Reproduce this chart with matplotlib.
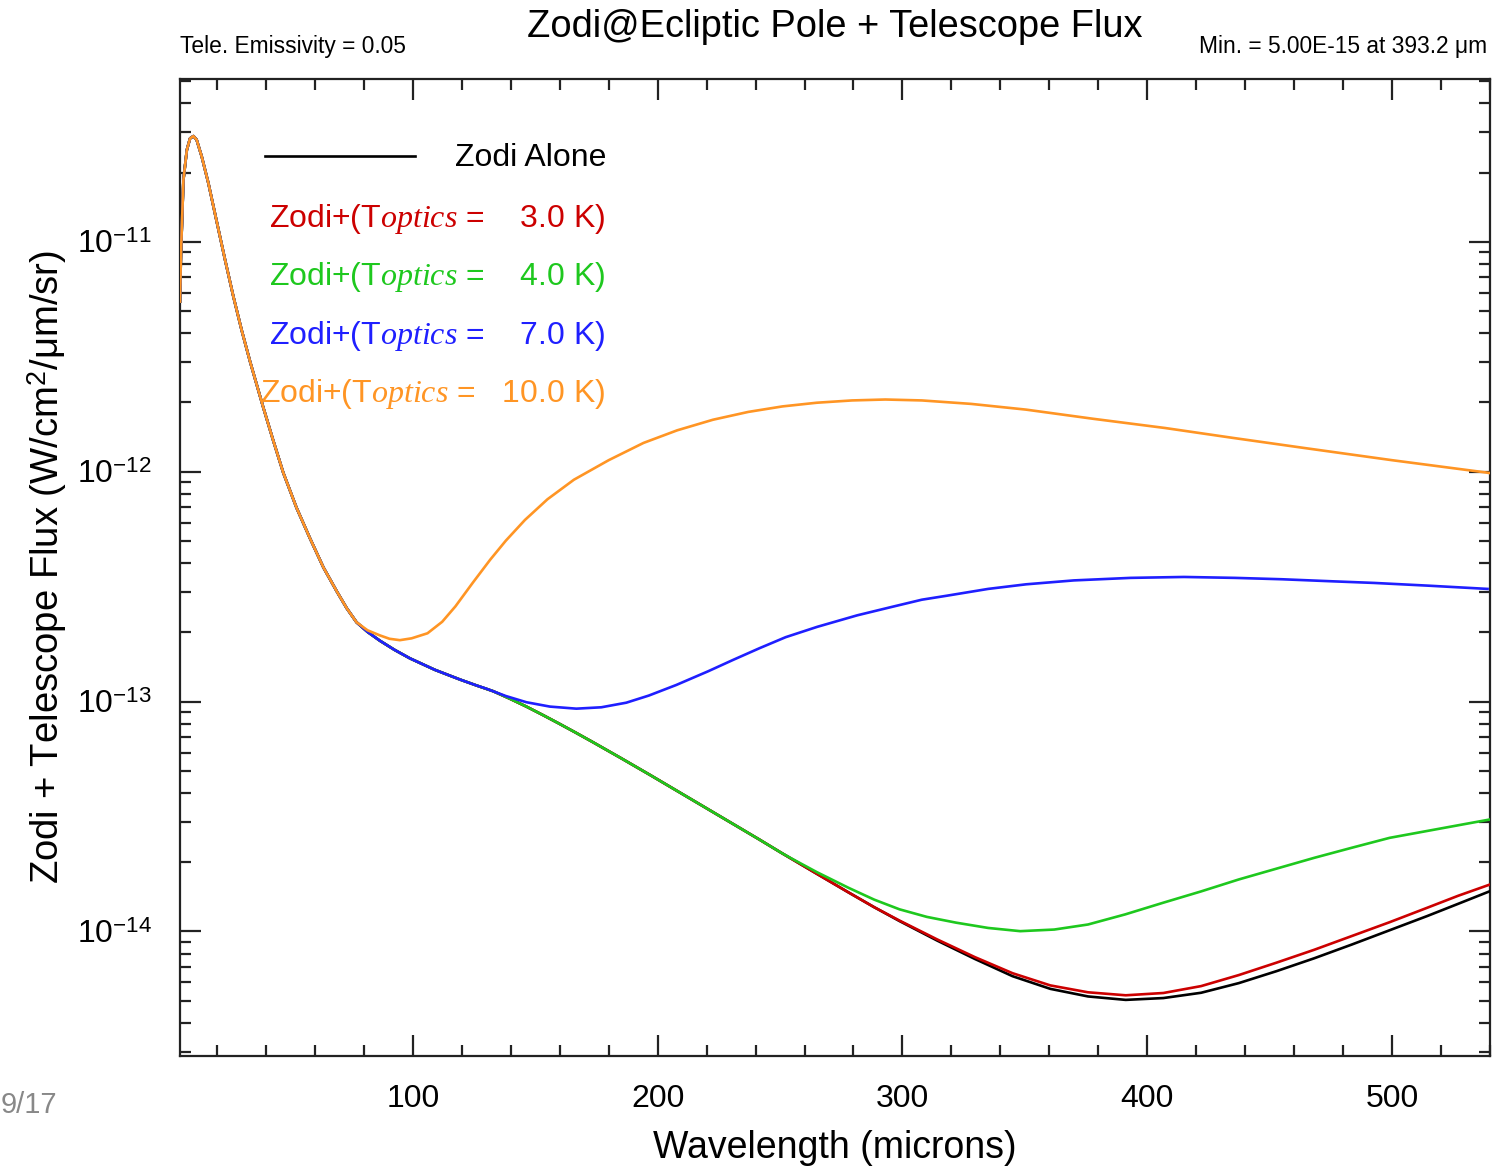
import numpy as np
import matplotlib
matplotlib.use("Agg")
import matplotlib.pyplot as plt
from matplotlib.lines import Line2D
from matplotlib.ticker import LogLocator, MultipleLocator, FixedLocator, NullFormatter

plt.rcParams['font.family'] = ['Liberation Sans', 'DejaVu Sans']
plt.rcParams['mathtext.fontset'] = 'custom'
plt.rcParams['mathtext.rm'] = 'Liberation Sans'
plt.rcParams['mathtext.it'] = 'Liberation Serif:italic'
plt.rcParams['mathtext.bf'] = 'Liberation Sans:bold'

# ---------------- data (wavelength in microns, log10 flux) ----------------
zodi_wl = [4.9, 5.3, 6.3, 7.7, 9.0, 10.4, 11.7, 13.8, 16.5, 19.9, 23.3, 26.7,
           30.1, 33.5, 38.9, 43.0, 47.1, 52.5, 58.0, 63.5, 68.9, 73.0, 77.0,
           81.5, 86.5, 92.5, 98.8, 109.0, 119.2, 126.0, 132.8, 139.5, 146.4,
           153.0, 159.4, 166.5, 173.6, 185.0, 197.0, 214.5, 232.3, 241.5,
           250.5, 264.0, 277.9, 288.5, 298.8, 314.2, 329.6, 345.0, 360.4,
           375.8, 391.2, 406.6, 422.0, 437.4, 452.8, 468.2, 483.6, 499.0,
           514.4, 527.0, 540.0]
zodi_logf = [-11.26, -11.05, -10.73, -10.60, -10.55, -10.54, -10.556, -10.63,
             -10.745, -10.912, -11.078, -11.238, -11.385, -11.52, -11.72,
             -11.865, -12.005, -12.157, -12.29, -12.417, -12.52, -12.594,
             -12.655, -12.697, -12.735, -12.775, -12.812, -12.862, -12.904,
             -12.93, -12.955, -12.987, -13.022, -13.058, -13.094, -13.135,
             -13.177, -13.246, -13.32, -13.43, -13.542, -13.60, -13.658,
             -13.743, -13.83, -13.895, -13.955, -14.04, -14.12, -14.195,
             -14.25, -14.283, -14.298, -14.29, -14.267, -14.225, -14.173,
             -14.117, -14.057, -13.995, -13.933, -13.88, -13.825]

red_wl = [298.8, 314.2, 329.6, 345.0, 360.4, 375.8, 391.2, 406.6, 422.0,
          437.4, 452.8, 468.2, 483.6, 499.0, 514.4, 527.0, 540.0]
red_logf = [-13.953, -14.035, -14.112, -14.182, -14.235, -14.265, -14.278,
            -14.268, -14.238, -14.19, -14.136, -14.08, -14.02, -13.96,
            -13.897, -13.845, -13.796]

green_wl = [254.2, 265.0, 277.9, 288.5, 298.8, 310.0, 321.9, 335.0, 348.1,
            362.0, 375.8, 391.0, 406.6, 422.0, 437.4, 452.8, 468.2, 483.6,
            499.0, 520.0, 540.0]
green_logf = [-13.68, -13.742, -13.81, -13.862, -13.904, -13.937, -13.962,
              -13.985, -13.999, -13.992, -13.970, -13.926, -13.875, -13.826,
              -13.774, -13.727, -13.68, -13.636, -13.593, -13.552, -13.513]

blue_wl = [130.0, 138.0, 146.4, 156.0, 166.8, 177.0, 187.2, 196.4, 207.6,
           220.7, 231.0, 241.6, 252.3, 265.2, 281.5, 295.0, 307.9, 317.9,
           335.0, 350.5, 370.0, 393.2, 415.0, 435.8, 455.0, 475.8, 492.7,
           515.0, 539.0]
blue_logf = [-12.944, -12.976, -13.003, -13.022, -13.031, -13.025, -13.005,
             -12.974, -12.928, -12.868, -12.818, -12.768, -12.72, -12.675,
             -12.625, -12.59, -12.557, -12.54, -12.51, -12.49, -12.473,
             -12.462, -12.458, -12.462, -12.468, -12.477, -12.484, -12.496,
             -12.51]

orange_wl = [77.0, 81.5, 86.5, 90.5, 94.7, 99.5, 106.0, 112.0, 117.4, 124.5,
             131.6, 138.0, 145.8, 155.0, 165.8, 180.0, 194.2, 208.0, 222.6,
             237.0, 251.0, 265.0, 279.4, 293.0, 307.9, 328.0, 350.5, 378.0,
             407.3, 435.0, 464.2, 500.0, 538.0, 540.0]
orange_logf = [-12.655, -12.69, -12.712, -12.727, -12.733, -12.725, -12.703,
               -12.653, -12.586, -12.483, -12.383, -12.30, -12.21, -12.12,
               -12.035, -11.95, -11.875, -11.82, -11.774, -11.74, -11.716,
               -11.70, -11.69, -11.686, -11.69, -11.705, -11.73, -11.77,
               -11.81, -11.853, -11.897, -11.95, -12.003, -12.006]

temps = [3.0, 4.0, 7.0, 10.0]
colors = ['#cc0000', '#1ec81e', '#1f1fff', '#ff9524']
xticks = [100, 200, 300, 400, 500]


def full_series(wl, logf):
    """Zodi points before the divergence followed by the series' own points."""
    zw = np.array(zodi_wl)
    zf = np.array(zodi_logf)
    keep = zw < wl[0]
    x = np.concatenate([zw[keep], wl])
    y = np.concatenate([zf[keep], logf])
    return x, 10.0 ** y


W, H = 1492, 1169
fig = plt.figure(figsize=(W / 100, H / 100), dpi=100)
ax = fig.add_axes([180 / W, 1 - 1056 / H, (1490 - 180) / W, (1056 - 79) / H])

lw = 1.9
ax.plot(zodi_wl, 10.0 ** np.array(zodi_logf), color='black', lw=lw, zorder=3,
        solid_joinstyle='round')
series = [(red_wl, red_logf), (green_wl, green_logf), (blue_wl, blue_logf),
          (orange_wl, orange_logf)]
for (wl, lf), c, z in zip(series, colors, [4, 5, 6, 7]):
    x, y = full_series(np.array(wl), np.array(lf))
    ax.plot(x, y, color=c, lw=lw, zorder=z, solid_joinstyle='round')

ax.set_yscale('log')
ax.set_xlim(4.9, 540)
ax.set_ylim(2.87e-15, 5.11e-11)

ax.xaxis.set_major_locator(FixedLocator(xticks))
ax.xaxis.set_minor_locator(MultipleLocator(20))
ax.yaxis.set_major_locator(LogLocator(base=10, numticks=20))
ax.yaxis.set_minor_locator(LogLocator(base=10, subs=np.arange(2, 10), numticks=50))
ax.yaxis.set_minor_formatter(NullFormatter())
ax.set_yticks([1e-14, 1e-13, 1e-12, 1e-11])
ax.set_yticklabels([r'$10^{-14}$', r'$10^{-13}$', r'$10^{-12}$', r'$10^{-11}$'])
ax.set_xticklabels([str(v) for v in xticks])

ax.tick_params(which='both', direction='in', top=True, right=True,
               width=1.6, color='#222222')
ax.tick_params(which='major', length=15, labelsize=23)
ax.tick_params(which='minor', length=8)
ax.tick_params(axis='x', which='major', pad=20)
ax.tick_params(axis='y', which='major', pad=20)
for s in ax.spines.values():
    s.set_linewidth(1.6)
    s.set_color('#222222')

ax.set_xlabel('Wavelength (microns)', fontsize=27, labelpad=12)
ax.set_ylabel(r'Zodi + Telescope Flux (W/cm$^{2}$/μm/sr)', fontsize=27.5,
              labelpad=6)


def fx(px):
    return px / W


def fy(py):
    return 1 - py / H


fig.text(fx(835), fy(27), 'Zodi@Ecliptic Pole + Telescope Flux', fontsize=27.4,
         ha='center', va='center')
fig.text(fx(180), fy(47), 'Tele. Emissivity = 0.05', fontsize=16.4,
         ha='left', va='center')
fig.text(fx(1487), fy(47), 'Min. = 5.00E-15 at 393.2 μm', fontsize=16.4,
         ha='right', va='center')
fig.text(fx(1), fy(1105), '9/17', fontsize=21, color='#888888',
         ha='left', va='center')

# legend drawn as text in figure pixels
fig.add_artist(Line2D([fx(265), fx(415)], [fy(156), fy(156)], color='black',
                      lw=1.9))
fig.text(fx(455), fy(158), 'Zodi Alone', fontsize=23, ha='left', va='center')
rows = [219, 277, 336, 394]
for t, c, py in zip(temps, colors, rows):
    val = f'{t:5.1f}'.replace(' ', '')
    pad = '    ' if t < 10 else '   '
    fig.text(fx(605), fy(py), r'Zodi+(T$\mathit{optics}$ =' + pad + val + ' K)',
             fontsize=23, color=c, ha='right', va='center')

fig.savefig('out.png', dpi=100)
